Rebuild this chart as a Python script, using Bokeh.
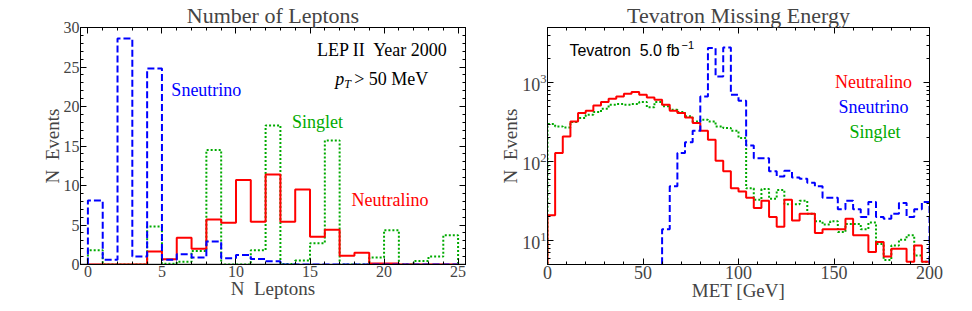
import numpy as np
from bokeh.plotting import figure
from bokeh.layouts import row
from bokeh.models import Range1d, LinearAxis, LogAxis, FixedTicker, Label, Span
from bokeh.embed import file_html
from bokeh.resources import INLINE

# ---------------- data ----------------
# Left panel: Number of leptons, bins [n, n+1)
lep_edges = list(range(0, 26))
neutralino_nl = [0, 0, 0, 0, 1.65, 0.65, 3.4, 2.0, 5.7, 5.3, 10.7, 5.4, 11.4, 5.4, 9.5,
                 3.5, 4.4, 1.1, 1.5, 0.12, 0.12, 0, 0, 0, 0]
sneutrino_nl = [8.1, 0.6, 28.6, 1.0, 24.8, 0.6, 1.3, 0.9, 2.9, 0.8, 1.2, 0.7, 0.4, 0, 0,
                0, 0, 0, 0, 0, 0, 0, 0, 0, 0]
singlet_nl = [1.8, 0, 0, 0, 4.8, 0.1, 0.35, 1.7, 14.5, 0, 0, 1.8, 17.6, 0.05, 0.5,
              2.7, 15.7, 0, 0, 0.9, 4.35, 0, 0.45, 1.0, 3.7]
lep_xticks = [0, 5, 10, 15, 20, 25]
lep_yticks = [0, 5, 10, 15, 20, 25, 30]

# Right panel: missing energy, 4 GeV bins from 0 to 200
met_edges = list(range(0, 204, 4))
neutralino_met = [21, 129, 209, 324, 413, 442, 516, 569, 627, 671,
                  726, 762, 705, 652, 609, 527, 442, 413, 364, 308,
                  247, 190, 103, 76, 46, 42, 35, 26, 32, 20,
                  15, 33, 18, 22, 22, 12.5, 14, 14, 14, 19,
                  11.7, 11.7, 7.2, 9.6, 6.3, 7.9, 7.9, 5.4, 8.7, 5.4]
sneutrino_met = [0, 0, 0, 0, 0, 0, 0, 0, 0, 0,
                 0, 0, 0, 0, 0, 14, 49, 129, 177, 247,
                 671, 2750, 1200, 2800, 705, 592, 161, 111, 111, 76,
                 65, 77, 63, 61, 54, 49, 35, 35, 25, 32,
                 25, 20, 31, 20, 19, 22, 30, 20, 25, 31]
singlet_met = [300, 280, 272, 318, 357, 394, 425, 469, 527, 537,
               527, 537, 569, 488, 569, 502, 455, 425, 375, 324,
               340, 324, 280, 267, 247, 200, 46, 33, 45, 34,
               44, 29, 29, 32, 22, 17.6, 16, 17.6, 12.9, 16.3,
               16.3, 14, 17, 9.1, 5.7, 8.7, 10.3, 11.7, 6.5, 5.4]
met_xticks = [0, 50, 100, 150, 200]
met_yticks = [10, 100, 1000]

RED = "#ff0000"
BLUE = "#0000ff"
GREEN = "#00aa00"
SERIF = "Liberation Serif"
SANS = "Liberation Sans"
NB = "\u00a0"


def outline(edges, vals, floor):
    v = np.maximum(np.asarray(vals, dtype=float), floor)
    xs = np.repeat(np.asarray(edges, dtype=float), 2)
    ys = np.concatenate([[floor], np.repeat(v, 2), [floor]])
    return xs, ys


def style_axis(ax, ticker, show_labels=True, size="16px"):
    ax.ticker = ticker
    ax.major_tick_in = 6
    ax.major_tick_out = 0
    ax.minor_tick_in = 3
    ax.minor_tick_out = 0
    ax.axis_line_color = "black"
    ax.major_tick_line_color = "black"
    ax.minor_tick_line_color = "black"
    ax.major_label_text_font = SERIF
    ax.axis_label_text_font = SERIF
    ax.axis_label_text_font_style = "normal"
    ax.axis_label_text_font_size = "19px"
    ax.axis_label_standoff = -2
    if show_labels:
        ax.major_label_text_font_size = size
        ax.major_label_standoff = 1
    else:
        ax.major_label_text_font_size = "1px"
        ax.major_label_text_color = None
        ax.major_label_standoff = 0


def style_title(p, text):
    p.title.text = text
    p.title.align = "center"
    p.title.text_font = SERIF
    p.title.text_font_style = "normal"
    p.title.text_font_size = "22px"
    p.title.standoff = 0


# ---------------- left panel ----------------
p1 = figure(width=490, height=303, x_range=Range1d(-0.5, 25.5), y_range=Range1d(0, 30),
            output_backend="svg", toolbar_location=None,
            min_border_left=80, min_border_right=25, min_border_top=0, min_border_bottom=0)
style_title(p1, "Number of Leptons")
p1.grid.visible = False
p1.outline_line_color = "black"

style_axis(p1.xaxis[0], FixedTicker(ticks=lep_xticks, minor_ticks=list(range(0, 26))))
style_axis(p1.yaxis[0], FixedTicker(ticks=lep_yticks, minor_ticks=list(range(0, 31))))
p1.xaxis[0].axis_label = "N" + NB + " Leptons"
p1.yaxis[0].axis_label = "N" + NB + " Events"
top1 = LinearAxis()
style_axis(top1, FixedTicker(ticks=lep_xticks, minor_ticks=list(range(0, 26))), show_labels=False)
p1.add_layout(top1, "above")
right1 = LinearAxis()
style_axis(right1, FixedTicker(ticks=lep_yticks, minor_ticks=list(range(0, 31))), show_labels=False)
p1.add_layout(right1, "right")

p1.add_layout(Span(location=0, dimension="width", line_color="#999999", line_width=2, level="underlay"))

for vals, col, dash in [(singlet_nl, GREEN, "2 2"), (neutralino_nl, RED, "solid"),
                        (sneutrino_nl, BLUE, "7 3")]:
    xs, ys = outline(lep_edges, vals, 0.0)
    p1.line(xs, ys, line_color=col, line_width=2, line_dash=dash)

p1.add_layout(Label(x=19.9, y=27.2, text="LEP II" + NB + " Year 2000", text_align="center", text_baseline="middle",
                    text_font=SERIF, text_font_size="18px", text_color="black"))
p1.add_layout(Label(x=16.7, y=23.5, text="p", text_align="left", text_baseline="middle",
                    text_font=SERIF, text_font_style="italic", text_font_size="18px", text_color="black"))
p1.add_layout(Label(x=16.7, y=23.5, x_offset=9, y_offset=-5, text="T", text_align="left", text_baseline="middle",
                    text_font=SERIF, text_font_style="italic", text_font_size="12px", text_color="black"))
p1.add_layout(Label(x=16.7, y=23.5, x_offset=19, text="> 50 MeV", text_align="left", text_baseline="middle",
                    text_font=SERIF, text_font_size="18px", text_color="black"))
p1.add_layout(Label(x=8.0, y=22.1, text="Sneutrino", text_align="center", text_baseline="middle",
                    text_font=SERIF, text_font_size="18px", text_color=BLUE))
p1.add_layout(Label(x=15.5, y=18.0, text="Singlet", text_align="center", text_baseline="middle",
                    text_font=SERIF, text_font_size="18px", text_color=GREEN))
p1.add_layout(Label(x=20.4, y=8.2, text="Neutralino", text_align="center", text_baseline="middle",
                    text_font=SERIF, text_font_size="18px", text_color=RED))

# ---------------- right panel ----------------
p2 = figure(width=474, height=303, x_range=Range1d(0, 200), y_range=Range1d(5, 5000),
            y_axis_type="log", output_backend="svg", toolbar_location=None,
            min_border_left=57, min_border_right=35, min_border_top=0, min_border_bottom=0)
style_title(p2, "Tevatron Missing Energy")
p2.grid.visible = False
p2.outline_line_color = "black"

log_minor = [k * 10 ** d for d in range(0, 4) for k in range(1, 10) if 5 <= k * 10 ** d <= 5000]
style_axis(p2.xaxis[0], FixedTicker(ticks=met_xticks, minor_ticks=list(range(0, 201, 10))), size="18px")
style_axis(p2.yaxis[0], FixedTicker(ticks=met_yticks, minor_ticks=log_minor), size="18px")
p2.xaxis[0].axis_label = "MET [GeV]"
p2.yaxis[0].axis_label = "N" + NB + " Events"
top2 = LinearAxis()
style_axis(top2, FixedTicker(ticks=met_xticks, minor_ticks=list(range(0, 201, 10))), show_labels=False)
p2.add_layout(top2, "above")
right2 = LogAxis()
style_axis(right2, FixedTicker(ticks=met_yticks, minor_ticks=log_minor), show_labels=False)
p2.add_layout(right2, "right")

for vals, col, dash in [(singlet_met, GREEN, "2 2"), (neutralino_met, RED, "solid"),
                        (sneutrino_met, BLUE, "7 3")]:
    xs, ys = outline(met_edges, vals, 1.0)
    p2.line(xs, ys, line_color=col, line_width=2, line_dash=dash)

p2.add_layout(Label(x=11.5, y=2550, text="Tevatron" + NB + " 5.0 fb", text_align="left", text_baseline="middle",
                    text_font=SANS, text_font_size="16px", text_color="black"))
p2.add_layout(Label(x=70.2, y=2550, y_offset=6, text="\u22121", text_align="left", text_baseline="middle",
                    text_font=SANS, text_font_size="11px", text_color="black"))
p2.add_layout(Label(x=170.7, y=1030, text="Neutralino", text_align="center", text_baseline="middle",
                    text_font=SERIF, text_font_size="18px", text_color=RED))
p2.add_layout(Label(x=170.7, y=497, text="Sneutrino", text_align="center", text_baseline="middle",
                    text_font=SERIF, text_font_size="18px", text_color=BLUE))
p2.add_layout(Label(x=171.5, y=240, text="Singlet", text_align="center", text_baseline="middle",
                    text_font=SERIF, text_font_size="18px", text_color=GREEN))

layout = row(p1, p2)
open("out.html", "w").write(file_html(layout, INLINE))
